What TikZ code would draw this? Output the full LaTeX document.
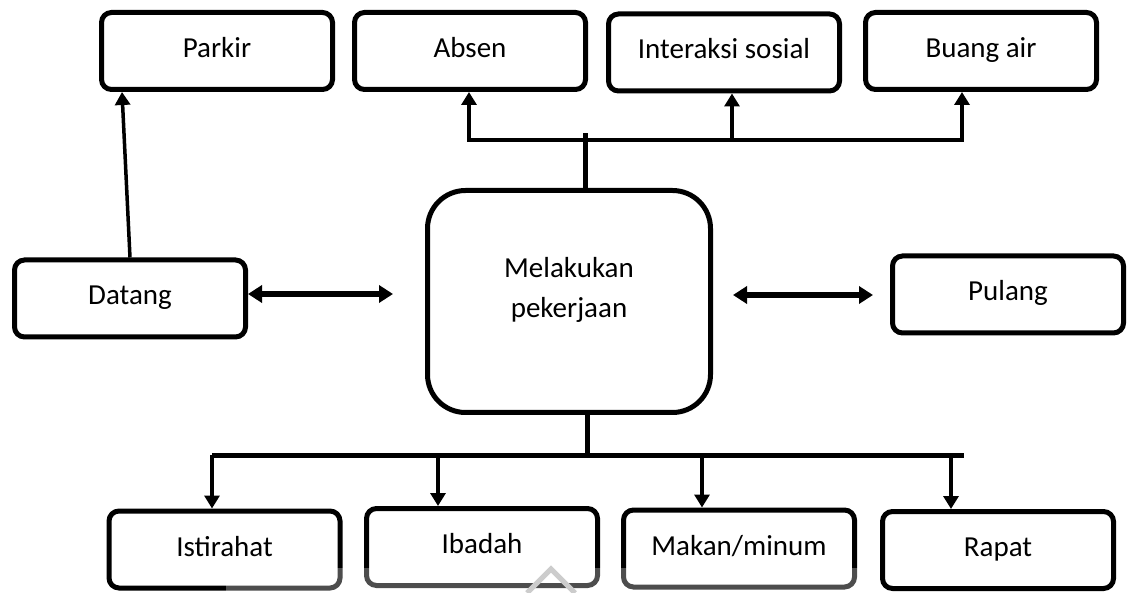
\documentclass[tikz,border=0pt]{standalone}
\usepackage{fontspec}
\setmainfont{Carlito}
\usetikzlibrary{arrows.meta}
\tikzset{
    box/.style={draw, line width=5pt, rounded corners=10pt, minimum width=231pt, minimum height=77pt,
        inner sep=0pt, font=\fontsize{29pt}{40pt}\selectfont, text height=20pt, text depth=7pt},
    arr/.style={line width=4.5pt, -{Triangle[length=13pt,width=15pt]}},
    dbl/.style={line width=6pt, {Triangle[length=14pt,width=17pt]}-{Triangle[length=14pt,width=17pt]}},
    bus/.style={line width=5pt}
}
\begin{document}
\begin{tikzpicture}[x=1pt,y=-1pt]
        \useasboundingbox (0,0) rectangle (1130,593);

        % Top row
        \node[box] (parkir) at (217,51) {Parkir};
        \node[box] (absen) at (470,51) {Absen};
        \node[box] (interaksi) at (724,52.5) {Interaksi sosial};
        \node[box] (buang) at (981,51) {Buang air};

        % Middle row
        \node[box] (datang) at (130,298.5) {Datang};
        \node[box, minimum width=283pt, minimum height=222pt, rounded corners=38pt] (kerja) at (569,301.5) {};
        \node[align=center, font=\fontsize{29pt}{40pt}\selectfont] (kerjatext) at (569,290) {Melakukan\\pekerjaan};
        \node[box] (pulang) at (1008,294.5) {Pulang};

        % Bottom row
        \node[box] (istirahat) at (224.5,549.5) {Istirahat};
        \node[box] (ibadah) at (482,547) {Ibadah};
        \node[box] (makan) at (739,548.5) {Makan/minum};
        \node[box] (rapat) at (998,550) {Rapat};

        \coordinate (tstem) at (585,133);
        \coordinate (t1) at (469,140);
        \coordinate (t2) at (732,140);
        \coordinate (t3) at (962,140);
        \coordinate (bstem) at (587,455);
        \coordinate (b0) at (212,455);
        \coordinate (b1) at (438,455);
        \coordinate (b2) at (702,455);
        \coordinate (b3) at (951,455);
        \coordinate (bend) at (964,455);
        \coordinate (dk) at (393,294);
        \coordinate (pk) at (733,295);

        % Connectors
        \draw[arr, line width=3.5pt] (datang.north) -- ([xshift=-95pt]parkir.south);
        \draw[bus] (kerja.north -| tstem) -- (tstem);
        \draw[arr] (t2) -- (t1) -- (t1 |- absen.south);
        \draw[arr] (t2) -- (t3) -- (t3 |- buang.south);
        \draw[arr] (t2) -- (t2 |- interaksi.south);

        \draw[bus] (kerja.south -| bstem) -- (bstem);
        \draw[bus] (b0) -- (bend);
        \draw[arr] (b0) -- (b0 |- istirahat.north);
        \draw[arr] (b1) -- (b1 |- ibadah.north);
        \draw[arr] (b2) -- (b2 |- makan.north);
        \draw[arr] (b3) -- (b3 |- rapat.north);

        \draw[dbl] (datang.east |- dk) -- (dk);
        \draw[dbl, shorten >=17pt] (pk) -- (pulang.west |- pk);

    % Watermark
    \fill[white, opacity=0.3] (226,568) rectangle (862,593);
    \draw[gray!40, line width=5pt] (527,593) -- (551,569) -- (575,593);
\end{tikzpicture}
\end{document}
